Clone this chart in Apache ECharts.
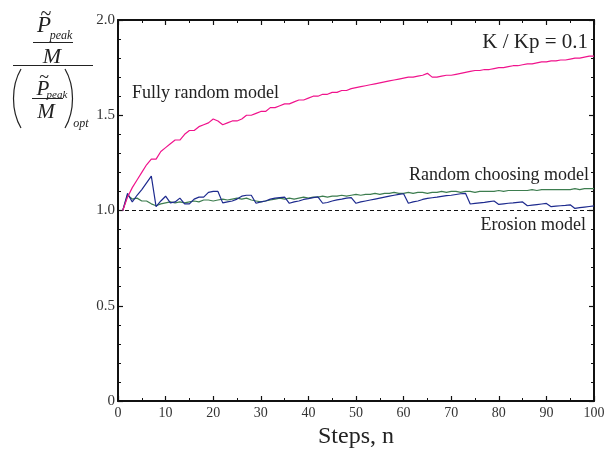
<!DOCTYPE html>
<html>
<head>
<meta charset="utf-8">
<script src="https://cdn.jsdelivr.net/npm/echarts@6/dist/echarts.min.js"></script>
<style>html,body{margin:0;padding:0;background:#fff;}#c{width:611px;height:450px;}</style>
</head>
<body>
<div id="c"></div>
<script>
// ---- data ----
const steps = [];
for (let i = 1; i <= 100; i++) steps.push(i);

const fullyRandom = [1.00,1.07,1.12,1.16,1.20,1.24,1.27,1.27,1.31,1.33,
1.35,1.37,1.37,1.40,1.42,1.42,1.44,1.45,1.46,1.48,
1.47,1.45,1.46,1.47,1.47,1.48,1.50,1.50,1.51,1.52,
1.52,1.54,1.54,1.55,1.56,1.56,1.57,1.58,1.58,1.59,
1.60,1.60,1.61,1.61,1.62,1.62,1.63,1.63,1.64,1.645,
1.65,1.655,1.66,1.665,1.67,1.675,1.68,1.685,1.69,1.695,
1.70,1.70,1.705,1.71,1.72,1.70,1.70,1.705,1.71,1.71,
1.715,1.72,1.725,1.73,1.735,1.735,1.74,1.74,1.745,1.75,
1.75,1.755,1.76,1.76,1.765,1.77,1.77,1.775,1.78,1.78,
1.785,1.785,1.79,1.79,1.795,1.80,1.80,1.805,1.81,1.81];

const randomChoosing = [1.00,1.08,1.06,1.065,1.05,1.05,1.035,1.025,1.035,1.04,
1.045,1.04,1.045,1.04,1.045,1.05,1.045,1.055,1.055,1.05,
1.055,1.06,1.055,1.06,1.065,1.06,1.065,1.055,1.05,1.045,
1.05,1.055,1.06,1.065,1.06,1.065,1.06,1.065,1.07,1.065,
1.07,1.07,1.075,1.07,1.075,1.075,1.08,1.075,1.08,1.085,
1.08,1.085,1.085,1.09,1.085,1.09,1.09,1.095,1.09,1.09,
1.095,1.09,1.095,1.095,1.09,1.095,1.095,1.10,1.095,1.10,
1.10,1.095,1.10,1.10,1.095,1.10,1.10,1.10,1.10,1.105,
1.10,1.105,1.105,1.105,1.105,1.105,1.11,1.105,1.11,1.11,
1.11,1.11,1.11,1.11,1.11,1.115,1.11,1.115,1.115,1.115];

const thirdModel = [1.00,1.09,1.045,1.08,1.11,1.145,1.18,1.02,1.05,1.075,
1.04,1.045,1.065,1.035,1.035,1.06,1.07,1.07,1.095,1.10,
1.10,1.04,1.045,1.05,1.06,1.075,1.08,1.08,1.038,1.045,
1.05,1.06,1.065,1.068,1.07,1.038,1.045,1.05,1.058,1.062,
1.068,1.072,1.038,1.042,1.05,1.056,1.06,1.065,1.068,1.038,
1.045,1.05,1.055,1.06,1.065,1.07,1.075,1.08,1.085,1.088,
1.038,1.045,1.05,1.058,1.064,1.067,1.07,1.074,1.078,1.08,
1.084,1.088,1.09,1.034,1.037,1.04,1.043,1.047,1.05,1.032,
1.035,1.038,1.04,1.043,1.045,1.025,1.028,1.031,1.034,1.037,
1.02,1.023,1.025,1.027,1.03,1.011,1.015,1.018,1.021,1.024];

const erosionSteps = [0, 100];
const erosion = [1.0, 1.0];

const xTicks = [0,10,20,30,40,50,60,70,80,90,100];
const yTicks = [0, 0.5, 1.0, 1.5, 2.0];

// ---- chart ----
const serif = '"Liberation Serif","DejaVu Serif",serif';
const pair = (xs, ys) => xs.map((x, i) => [x, ys[i]]);

const chart = echarts.init(document.getElementById('c'), null, {renderer: 'canvas'});
const axisLine = {show: true, onZero: false, lineStyle: {color: '#111', width: 2}};
const tick = {show: true, inside: true, length: 5, lineStyle: {color: '#111', width: 1.2}};
const minor = {show: true, length: 3, lineStyle: {color: '#111', width: 1}};

chart.setOption({
  animation: false,
  backgroundColor: '#fff',
  grid: {left: 118, right: 17, top: 20, bottom: 49, containLabel: false, outerBoundsMode: 'none'},
  xAxis: [
    {type: 'value', min: 0, max: 100, interval: 10, position: 'bottom',
     axisLine: axisLine, axisTick: tick, minorTick: Object.assign({splitNumber: 2}, minor),
     splitLine: {show: false},
     axisLabel: {fontFamily: serif, fontSize: 14, color: '#333', margin: 5,
       formatter: v => xTicks.includes(v) ? String(v) : ''},
     name: 'Steps, n', nameLocation: 'middle', nameGap: 27,
     nameTextStyle: {fontFamily: serif, fontSize: 24, color: '#222', verticalAlign: 'middle'}},
    {type: 'value', min: 0, max: 100, interval: 10, position: 'top',
     axisLine: axisLine, axisTick: tick, minorTick: Object.assign({splitNumber: 2}, minor),
     splitLine: {show: false}, axisLabel: {show: false}}
  ],
  yAxis: [
    {type: 'value', min: 0, max: 2, interval: 0.5, position: 'left',
     axisLine: axisLine, axisTick: tick, minorTick: Object.assign({splitNumber: 5}, minor),
     splitLine: {show: false},
     axisLabel: {fontFamily: serif, fontSize: 15, color: '#333', margin: 3,
       formatter: v => yTicks.includes(v) ? (v === 0 ? '0' : v.toFixed(1)) : ''}},
    {type: 'value', min: 0, max: 2, interval: 0.5, position: 'right',
     axisLine: axisLine, axisTick: tick, minorTick: Object.assign({splitNumber: 5}, minor),
     splitLine: {show: false}, axisLabel: {show: false}}
  ],
  series: [
    {name: 'Erosion model', type: 'line', data: pair(erosionSteps, erosion), symbol: 'none',
     lineStyle: {color: '#111', width: 1.2, type: [4, 3]}},
    {name: 'Random choosing model', type: 'line', data: pair(steps, randomChoosing), symbol: 'none',
     lineStyle: {color: '#3d7d4f', width: 1.2}},
    {name: 'Other model', type: 'line', data: pair(steps, thirdModel), symbol: 'none',
     lineStyle: {color: '#1d2a8e', width: 1.2}},
    {name: 'Fully random model', type: 'line', data: pair(steps, fullyRandom), symbol: 'none',
     lineStyle: {color: '#f0138c', width: 1.2}}
  ],
  graphic: [
    // annotations
    {type: 'text', x: 588, y: 42, style: {text: 'K / Kp = 0.1', font: '21px ' + serif, fill: '#222', align: 'right', verticalAlign: 'middle'}},
    {type: 'text', x: 132, y: 93, style: {text: 'Fully random model', font: '18px ' + serif, fill: '#222', align: 'left', verticalAlign: 'middle'}},
    {type: 'text', x: 589, y: 175, style: {text: 'Random choosing model', font: '18px ' + serif, fill: '#222', align: 'right', verticalAlign: 'middle'}},
    {type: 'text', x: 586, y: 225, style: {text: 'Erosion model', font: '18px ' + serif, fill: '#222', align: 'right', verticalAlign: 'middle'}},
    // y-axis formula: numerator
    {type: 'text', x: 46, y: 15, style: {text: '~', font: '20px ' + serif, fill: '#222', align: 'center', verticalAlign: 'middle'}},
    {type: 'text', x: 44, y: 26, style: {text: 'P', font: 'italic 23px ' + serif, fill: '#222', align: 'center', verticalAlign: 'middle'}},
    {type: 'text', x: 61, y: 36, style: {text: 'peak', font: 'italic 12px ' + serif, fill: '#222', align: 'center', verticalAlign: 'middle'}},
    {type: 'line', shape: {x1: 33, y1: 42.5, x2: 73, y2: 42.5}, style: {stroke: '#222', lineWidth: 1}},
    {type: 'text', x: 52, y: 57, style: {text: 'M', font: 'italic 22px ' + serif, fill: '#222', align: 'center', verticalAlign: 'middle'}},
    {type: 'line', shape: {x1: 13, y1: 65.5, x2: 93, y2: 65.5}, style: {stroke: '#222', lineWidth: 1}},
    // denominator
    {type: 'bezierCurve', shape: {x1: 21, y1: 69, cpx1: 11, cpy1: 86, cpx2: 11, cpy2: 111, x2: 21, y2: 128}, style: {stroke: '#222', lineWidth: 1.2, fill: null}},
    {type: 'bezierCurve', shape: {x1: 65, y1: 69, cpx1: 75, cpy1: 86, cpx2: 75, cpy2: 111, x2: 65, y2: 128}, style: {stroke: '#222', lineWidth: 1.2, fill: null}},
    {type: 'text', x: 44, y: 78, style: {text: '~', font: '18px ' + serif, fill: '#222', align: 'center', verticalAlign: 'middle'}},
    {type: 'text', x: 43, y: 89, style: {text: 'P', font: 'italic 21px ' + serif, fill: '#222', align: 'center', verticalAlign: 'middle'}},
    {type: 'text', x: 57, y: 95, style: {text: 'peak', font: 'italic 11px ' + serif, fill: '#222', align: 'center', verticalAlign: 'middle'}},
    {type: 'line', shape: {x1: 32, y1: 98.5, x2: 63, y2: 98.5}, style: {stroke: '#222', lineWidth: 1}},
    {type: 'text', x: 46, y: 112, style: {text: 'M', font: 'italic 21px ' + serif, fill: '#222', align: 'center', verticalAlign: 'middle'}},
    {type: 'text', x: 81, y: 124, style: {text: 'opt', font: 'italic 12px ' + serif, fill: '#222', align: 'center', verticalAlign: 'middle'}}
  ]
});
</script>
</body>
</html>
